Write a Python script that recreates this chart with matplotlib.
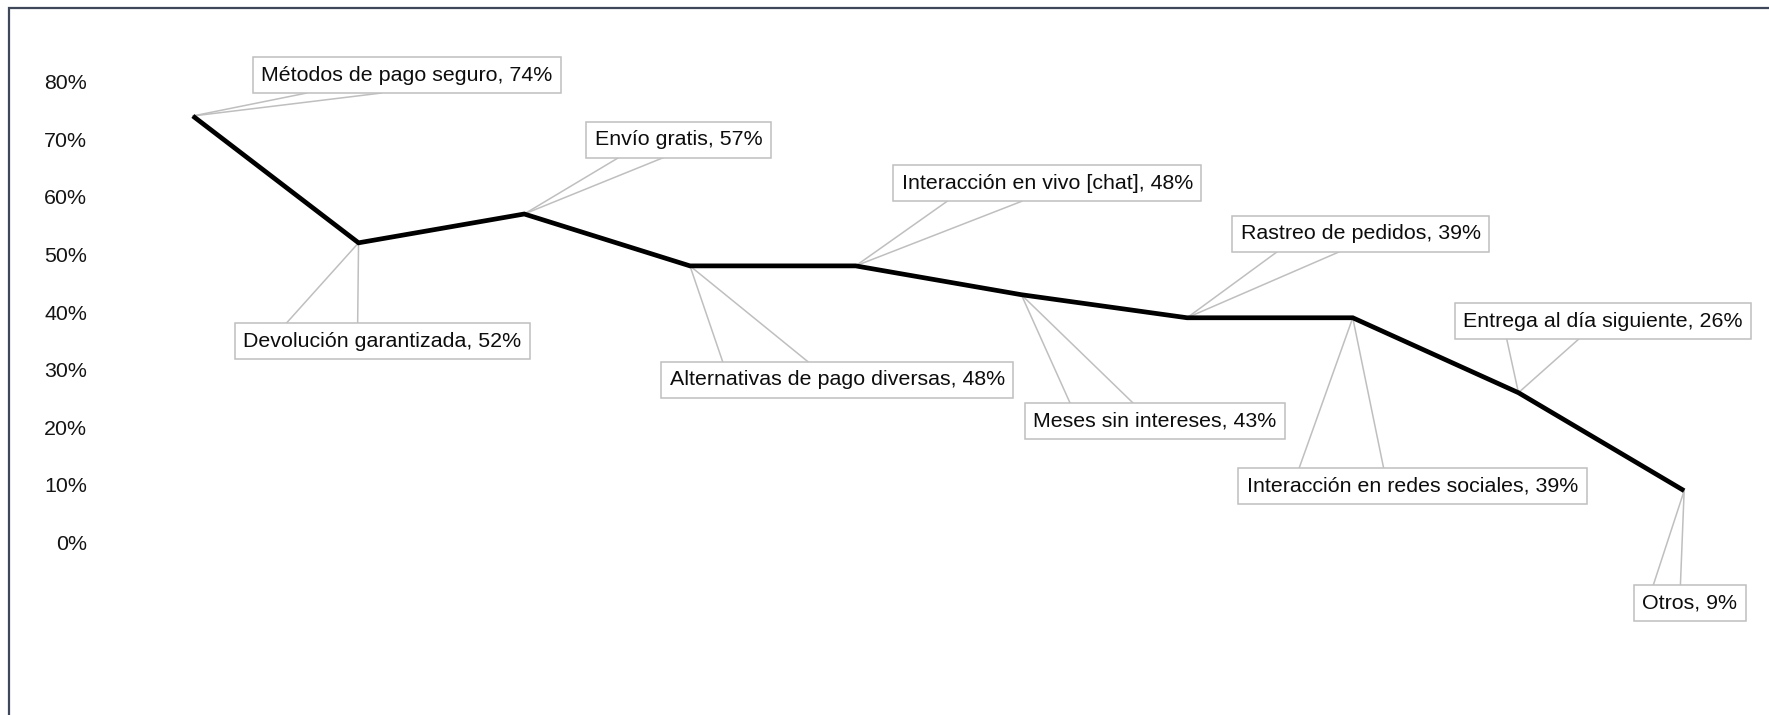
import matplotlib
matplotlib.use("Agg")
import matplotlib.pyplot as plt
from matplotlib.lines import Line2D
from matplotlib.patches import Rectangle
from matplotlib.ticker import PercentFormatter

plt.rcParams["font.family"] = ["Liberation Sans", "DejaVu Sans"]

# Factors valued by online shoppers (% of respondents)
categories = [
    "Métodos de pago seguro",
    "Devolución garantizada",
    "Envío gratis",
    "Alternativas de pago diversas",
    "Interacción en vivo [chat]",
    "Meses sin intereses",
    "Rastreo de pedidos",
    "Interacción en redes sociales",
    "Entrega al día siguiente",
    "Otros",
]
values = [74, 52, 57, 48, 48, 43, 39, 39, 26, 9]
y_ticks = [0, 10, 20, 30, 40, 50, 60, 70, 80]

# Callout placement, in points relative to each data point
label_offsets = [
    (154, 29.5), (17, -71), (111, 53.5), (106, -82), (138, 59.5),
    (96, -91), (125, 60.5), (43, -121), (61, 51.5), (4, -81),
]

W, H, DPI = 1769, 715, 100
fig = plt.figure(figsize=(W / DPI, H / DPI), dpi=DPI)
fig.patch.set_facecolor("white")

# Plot area in pixels
left_px, right_px, top_px, bottom_px = 110, 1767, 40, 700
ax = fig.add_axes([left_px / W, 1 - bottom_px / H,
                   (right_px - left_px) / W, (bottom_px - top_px) / H])

zero_px, px_per_pct = 542.6, 5.765
ax.set_ylim((zero_px - bottom_px) / px_per_pct, (zero_px - top_px) / px_per_pct)
ax.set_xlim(-0.5, len(categories) - 0.5)

x = list(range(len(categories)))
ax.plot(x, values, color="#000000", lw=3.4, solid_joinstyle="miter",
        solid_capstyle="butt", zorder=3)

for s in ax.spines.values():
    s.set_visible(False)
ax.set_xticks([])
ax.set_yticks(y_ticks)
ax.yaxis.set_major_formatter(PercentFormatter(xmax=100, decimals=0))
ax.tick_params(axis="y", length=0, pad=16.5, labelsize=15.4, labelcolor="#141414")
ax.set_facecolor("white")

anns = []
for i, (cat, v) in enumerate(zip(categories, values)):
    a = ax.annotate(
        f"{cat}, {v}%", xy=(i, v), xytext=label_offsets[i],
        textcoords="offset points", ha="center", va="center",
        fontsize=15.4, color="#0d0d0d", zorder=5, annotation_clip=False,
        bbox=dict(boxstyle="square,pad=0.4", fc="white", ec="#bfbfbf", lw=1.1),
    )
    anns.append(a)

# Leader wedges: two lines from the point to the near edge of its box
fig.canvas.draw()
renderer = fig.canvas.get_renderer()
inv = ax.transData.inverted()
for i, a in enumerate(anns):
    bb = a.get_bbox_patch().get_window_extent(renderer)
    px, py = ax.transData.transform((i, values[i]))
    ey = bb.y0 if (bb.y0 + bb.y1) / 2 > py else bb.y1
    for frac in (0.175, 0.417):
        ex = bb.x0 + frac * bb.width
        (dx0, dy0), (dx1, dy1) = inv.transform([(px, py), (ex, ey)])
        ax.add_line(Line2D([dx0, dx1], [dy0, dy1], color="#bfbfbf", lw=1.1,
                           zorder=2, clip_on=False))

# Outer frame of the chart area
fig.add_artist(Rectangle((8.5 / W, -0.1), 1.2, 1.1 - 8 / H,
                         transform=fig.transFigure, fill=False,
                         edgecolor="#3e4859", lw=1.6, zorder=10))

fig.savefig("out.png", dpi=DPI, facecolor="white")
